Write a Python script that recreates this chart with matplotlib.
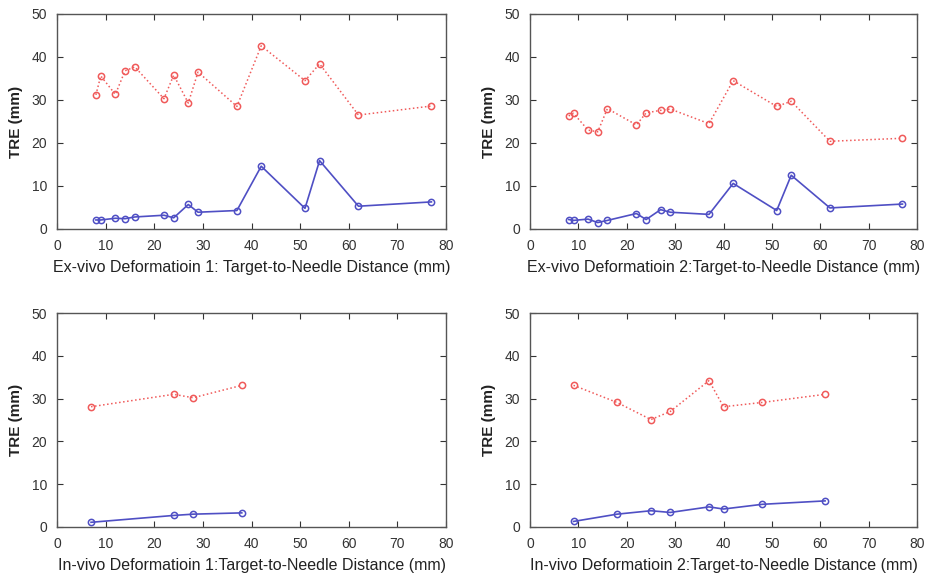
import matplotlib
matplotlib.use("Agg")
import matplotlib.pyplot as plt

plt.rcParams['font.family'] = ['Liberation Sans', 'DejaVu Sans']

# ex-vivo deformation 1 and 2 share the same target distances
x_ex = [8, 9, 12, 14, 16, 22, 24, 27, 29, 37, 42, 51, 54, 62, 77]
ex1_red = [31.2, 35.6, 31.3, 36.8, 37.7, 30.3, 35.8, 29.3, 36.5, 28.5, 42.6, 34.5, 38.4, 26.5, 28.6]
ex1_blue = [2.1, 2.1, 2.5, 2.4, 2.8, 3.2, 2.6, 5.7, 3.9, 4.3, 14.6, 4.8, 15.9, 5.3, 6.3]
ex2_red = [26.3, 26.9, 23.0, 22.6, 28.0, 24.2, 27.0, 27.6, 27.9, 24.5, 34.5, 28.5, 29.7, 20.4, 21.1]
ex2_blue = [2.2, 2.0, 2.3, 1.5, 2.0, 3.6, 2.2, 4.5, 3.9, 3.4, 10.6, 4.3, 12.5, 4.9, 5.8]

# in-vivo
x_in1 = [7, 24, 28, 38]
in1_red = [28.1, 31.0, 30.2, 33.1]
in1_blue = [1.1, 2.7, 3.0, 3.3]
x_in2 = [9, 18, 25, 29, 37, 40, 48, 61]
in2_red = [33.1, 29.1, 25.1, 27.0, 34.2, 28.1, 29.1, 31.0]
in2_blue = [1.3, 3.0, 3.8, 3.4, 4.7, 4.2, 5.3, 6.1]

xlabels = ["Ex-vivo Deformatioin 1: Target-to-Needle Distance (mm)",
           "Ex-vivo Deformatioin 2:Target-to-Needle Distance (mm)",
           "In-vivo Deformatioin 1:Target-to-Needle Distance (mm)",
           "In-vivo Deformatioin 2:Target-to-Needle Distance (mm)"]

panels = [(x_ex, ex1_red, ex1_blue), (x_ex, ex2_red, ex2_blue),
          (x_in1, in1_red, in1_blue), (x_in2, in2_red, in2_blue)]

W, H = 934, 579
# axes boxes in pixels: left, top, right, bottom
boxes = [(57, 14, 446, 229), (530, 14, 917, 229),
         (57, 313, 446, 527), (530, 313, 917, 527)]

fig = plt.figure(figsize=(W / 100, H / 100), dpi=100)

for i in range(4):
    l, t, r, b = boxes[i]
    ax = fig.add_axes([l / W, 1 - b / H, (r - l) / W, (b - t) / H])
    xs, red, blue = panels[i]
    ax.plot(xs, red, linestyle=':', color='#f05a5a', lw=1.1, marker='o',
            markersize=4.5, markerfacecolor='none', markeredgewidth=1.1)
    ax.plot(xs, blue, linestyle='-', color='#4f4fc4', lw=1.2, marker='o',
            markersize=4.5, markerfacecolor='none', markeredgewidth=1.1)
    ax.set_xlim(0, 80)
    ax.set_ylim(0, 50)
    ax.set_xticks(range(0, 81, 10))
    ax.set_yticks(range(0, 51, 10))
    ax.tick_params(direction='in', top=True, right=True, length=4, width=0.8,
                   labelsize=10, colors='#333333', pad=7)
    for sp in ax.spines.values():
        sp.set_color('#555555')
        sp.set_linewidth(1.0)
    ax.set_xlabel(xlabels[i], fontsize=11.5, color='#222222', labelpad=5)
    ax.set_ylabel("TRE (mm)", fontsize=11, fontweight='bold', color='#222222', labelpad=6)

fig.savefig("out.png", dpi=100)
